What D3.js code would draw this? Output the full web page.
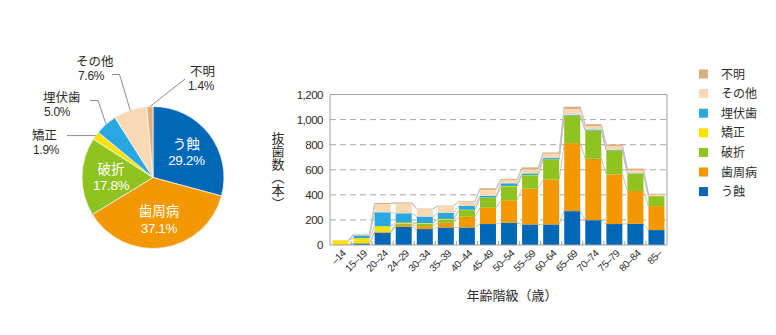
<!DOCTYPE html>
<html>
<head>
<meta charset="utf-8">
<script src="https://cdn.jsdelivr.net/npm/d3@7"></script>
<style>
  body { margin: 0; background: #fff; }
  svg { display: block; font-family: "Noto Sans CJK JP", "Noto Sans", sans-serif; }
  .num { font-family: "Liberation Sans", Arial, sans-serif; }
</style>
</head>
<body>
<div id="chart"></div>
<script>
// causes (stack order bottom -> top)
const causes = ['う蝕', '歯周病', '破折', '矯正', '埋伏歯', 'その他', '不明'];
const causeColors = ['#0068b7', '#f39800', '#8fc31f', '#ffe100', '#29a7e1', '#f8d9b3', '#dcae7c'];

// pie shares (%)
const piePercents = [29.2, 37.1, 17.8, 1.9, 5.0, 7.6, 1.4];

// age groups
const ageGroups = ['–14', '15–19', '20–24', '24–29', '30–34', '35–39', '40–44', '45–49',
  '50–54', '55–59', '60–64', '65–69', '70–74', '75–79', '80–84', '85–'];

// extracted teeth by cause and age group
const caries = [2, 12, 98, 145, 127, 140, 140, 167, 177, 164, 164, 270, 198, 167, 169, 119];
const periodontal = [0, 2, 5, 15, 24, 37, 85, 130, 180, 286, 357, 542, 490, 396, 262, 191];
const fracture = [0, 1, 5, 8, 18, 26, 53, 79, 111, 106, 162, 220, 225, 191, 138, 79];
const orthodontic = [35, 40, 42, 10, 5, 5, 3, 2, 3, 2, 0, 0, 0, 0, 0, 0];
const impacted = [1, 22, 111, 75, 53, 48, 32, 13, 21, 13, 10, 5, 8, 4, 3, 1];
const other = [2, 8, 66, 78, 58, 53, 34, 48, 26, 32, 35, 48, 26, 30, 23, 13];
const unknown = [0, 2, 8, 8, 5, 5, 5, 13, 8, 16, 10, 18, 16, 14, 14, 6];

const yTicks = [0, 200, 400, 600, 800, 1000, 1200];

const seriesValues = [caries, periodontal, fracture, orthodontic, impacted, other, unknown];
const rows = ageGroups.map((age, i) => {
  const row = { age };
  causes.forEach((c, k) => { row[c] = seriesValues[k][i]; });
  return row;
});

const width = 776;
const height = 335;
const textColor = '#2b2b2b';

const svg = d3.select('#chart')
  .append('svg')
  .attr('width', width)
  .attr('height', height);

// ---------- pie ----------
const pieCenter = { x: 153, y: 177.5 };
const radius = 71;

const pieGroup = svg.append('g')
  .attr('transform', `translate(${pieCenter.x}, ${pieCenter.y})`);

const pieGenerator = d3.pie()
  .sort(null)
  .value((d) => d);

const arcGenerator = d3.arc()
  .innerRadius(0)
  .outerRadius(radius);

const labelArc = d3.arc()
  .innerRadius(42)
  .outerRadius(42);

const slices = pieGenerator(piePercents);

pieGroup.selectAll('path')
  .data(slices)
  .enter()
  .append('path')
  .attr('d', arcGenerator)
  .style('fill', (_, i) => causeColors[i])
  .style('stroke', '#f4f4f4')
  .style('stroke-width', 0.8);

const fmtPct = (v) => `${v.toFixed(1)}%`;

// labels inside the large slices
const inside = [0, 1, 2];
inside.forEach((i) => {
  const [cx, cy] = labelArc.centroid(slices[i]);
  const g = pieGroup.append('g')
    .attr('text-anchor', 'middle')
    .style('fill', '#fff');
  g.append('text')
    .attr('x', cx).attr('y', cy - 3)
    .style('font-size', '13.5px')
    .text(causes[i]);
  g.append('text')
    .attr('class', 'num')
    .attr('x', cx).attr('y', cy + 13.5)
    .style('font-size', '13.5px')
    .style('letter-spacing', '-0.4px')
    .text(fmtPct(piePercents[i]));
});

// labels outside with leader lines (offsets relative to pie centre)
const outside = [
  { i: 3, elbow: null, end: [-86, 0], name: [-121, -38], pct: [-120, -24] },
  { i: 4, elbow: [-55, -77], end: [-63, -77], name: [-110, -76], pct: [-109, -62] },
  { i: 5, elbow: [-33.5, -103], end: [-41, -103], name: [-77, -112], pct: [-75, -98] },
  { i: 6, elbow: null, end: [32, -98.5], name: [37, -102], pct: [35, -88] },
];

const midPoint = (s, r) => {
  const a = (s.startAngle + s.endAngle) / 2;
  return [r * Math.sin(a), -r * Math.cos(a)];
};

outside.forEach((o) => {
  const start = midPoint(slices[o.i], radius);
  const pts = [start];
  if (o.elbow) pts.push(o.elbow);
  pts.push(o.i === 3 ? [o.end[0], start[1]] : o.end);
  pieGroup.append('path')
    .attr('d', d3.line()(pts))
    .style('fill', 'none')
    .style('stroke', '#8c8c8c')
    .style('stroke-width', 1);
  pieGroup.append('text')
    .attr('x', o.name[0]).attr('y', o.name[1])
    .style('fill', textColor)
    .style('font-size', '12.5px')
    .text(causes[o.i]);
  pieGroup.append('text')
    .attr('class', 'num')
    .attr('x', o.pct[0]).attr('y', o.pct[1])
    .style('fill', textColor)
    .style('font-size', '12px')
    .style('letter-spacing', '-0.3px')
    .text(fmtPct(piePercents[o.i]));
});

// ---------- stacked bars ----------
const plot = { left: 330, right: 667, top: 94.5, bottom: 245 };

const x = d3.scaleBand()
  .domain(ageGroups)
  .range([plot.left, plot.right])
  .paddingInner(0.24)
  .paddingOuter(0.12);

const y = d3.scaleLinear()
  .domain([0, 1200])
  .range([plot.bottom, plot.top]);

// dashed grid
svg.append('g')
  .selectAll('line')
  .data(yTicks.filter((t) => t > 0 && t < 1200))
  .enter()
  .append('line')
  .attr('x1', plot.left)
  .attr('x2', plot.right)
  .attr('y1', (d) => y(d))
  .attr('y2', (d) => y(d))
  .style('stroke', '#a8a8a8')
  .style('stroke-dasharray', '6,4')
  .style('stroke-width', 1);

const stack = d3.stack().keys(causes);
const layers = stack(rows);

// series lines between neighbouring bars
const seriesLines = svg.append('g');
layers.forEach((layer) => {
  for (let i = 0; i < layer.length - 1; i += 1) {
    seriesLines.append('line')
      .attr('x1', x(ageGroups[i]) + x.bandwidth())
      .attr('x2', x(ageGroups[i + 1]))
      .attr('y1', y(layer[i][1]))
      .attr('y2', y(layer[i + 1][1]))
      .style('stroke', '#c4c4c4')
      .style('stroke-width', 1);
  }
});

svg.append('g')
  .selectAll('g')
  .data(layers)
  .enter()
  .append('g')
  .style('fill', (_, i) => causeColors[i])
  .selectAll('rect')
  .data((d) => d)
  .enter()
  .append('rect')
  .attr('x', (d) => x(d.data.age))
  .attr('width', x.bandwidth())
  .attr('y', (d) => y(d[1]))
  .attr('height', (d) => y(d[0]) - y(d[1]));

// plot frame
svg.append('path')
  .attr('d', `M${plot.left},${plot.top}H${plot.right}V${plot.bottom}H${plot.left}Z`)
  .style('fill', 'none')
  .style('stroke', '#a0a0a0')
  .style('stroke-width', 1);

// x ticks at category boundaries (inward)
const step = x.step();
svg.append('g')
  .selectAll('line')
  .data(ageGroups.slice(1))
  .enter()
  .append('line')
  .attr('x1', (d) => x(d) - (step - x.bandwidth()) / 2)
  .attr('x2', (d) => x(d) - (step - x.bandwidth()) / 2)
  .attr('y1', plot.bottom)
  .attr('y2', plot.bottom - 4)
  .style('stroke', '#a0a0a0');

// y tick labels
svg.append('g')
  .selectAll('text')
  .data(yTicks)
  .enter()
  .append('text')
  .attr('class', 'num')
  .attr('x', plot.left - 7)
  .attr('y', (d) => y(d) + 4)
  .attr('text-anchor', 'end')
  .style('fill', textColor)
  .style('font-size', '11.5px')
  .style('letter-spacing', '-0.5px')
  .text(d3.format(','));

// x tick labels (rotated)
svg.append('g')
  .selectAll('text')
  .data(ageGroups)
  .enter()
  .append('text')
  .attr('class', 'num')
  .attr('transform', (d) => `translate(${x(d) + x.bandwidth() / 2 + 6}, ${plot.bottom + 9}) rotate(-45)`)
  .attr('text-anchor', 'end')
  .style('fill', textColor)
  .style('font-size', '10px')
  .style('letter-spacing', '-0.4px')
  .text((d) => d);

// axis titles
svg.append('text')
  .attr('x', 278)
  .attr('y', 171)
  .attr('text-anchor', 'middle')
  .style('writing-mode', 'vertical-rl')
  .style('fill', textColor)
  .style('font-size', '13px')
  .text('抜歯数（本）');

svg.append('text')
  .attr('x', 512)
  .attr('y', 300)
  .attr('text-anchor', 'middle')
  .style('fill', textColor)
  .style('font-size', '13px')
  .text('年齢階級（歳）');

// legend (top = last series)
const legend = svg.append('g')
  .selectAll('g')
  .data(causes.slice().reverse())
  .enter()
  .append('g')
  .attr('transform', (_, i) => `translate(699, ${74 + i * 19.6})`);

legend.append('rect')
  .attr('x', 0)
  .attr('y', -4.5)
  .attr('width', 9)
  .attr('height', 9)
  .style('fill', (d) => causeColors[causes.indexOf(d)]);

legend.append('text')
  .attr('x', 22)
  .attr('y', 4.5)
  .style('fill', textColor)
  .style('font-size', '12px')
  .text((d) => d);
</script>
</body>
</html>
